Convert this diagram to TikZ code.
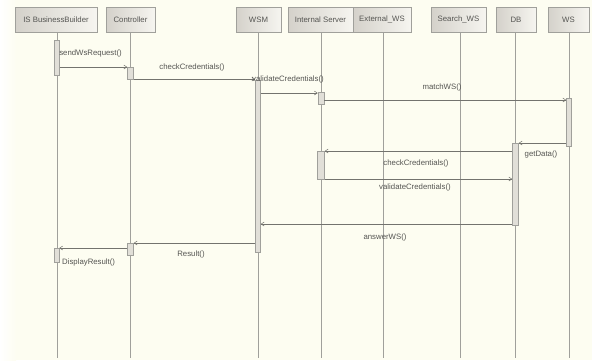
\documentclass[tikz,border=0pt]{standalone}
\usepackage{fontspec}
\setmainfont{Liberation Sans}
\usetikzlibrary{arrows.meta}
\definecolor{bg}{RGB}{253,253,241}
\definecolor{ln}{RGB}{160,160,155}
\definecolor{msgc}{RGB}{115,115,110}
\definecolor{hdl}{RGB}{212,209,202}
\definecolor{hdr}{RGB}{246,245,240}
\definecolor{txt}{RGB}{85,85,82}
\definecolor{actc}{RGB}{225,223,216}
\begin{document}
\begin{tikzpicture}[x=1pt,y=-1pt,
  font=\fontsize{7.8}{8.5}\selectfont,
  hdr/.style={draw=ln, line width=0.5pt, left color=hdl, right color=hdr,
    minimum height=25pt, inner sep=1pt, text=txt},
  life/.style={draw=ln, line width=0.5pt},
  act/.style={draw=ln, fill=actc, line width=0.5pt, minimum width=5pt, inner sep=0pt},
  msg/.style={draw=msgc, line width=0.5pt, -{Straight Barb[length=3pt,width=4pt]}},
  lbl/.style={text=txt, inner sep=1pt}]
% background
\fill[bg] (0,0) rectangle (592,360);
\shade[left color=white, right color=bg] (0,0) rectangle (16,360);
\useasboundingbox (0,0) rectangle (592,360);
% headers
\node[hdr, minimum width=82pt] (isb) at (56,19.5) {IS BusinessBuilder};
\node[hdr, minimum width=49pt] (ctl) at (130.5,19.5) {Controller};
\node[hdr, minimum width=45pt] (wsm) at (258.5,19.5) {WSM};
\node[hdr, minimum width=65pt] (isv) at (320.5,19.5) {Internal Server};
\node[hdr, minimum width=58pt] (ext) at (382,19.5) {External\_WS};
\node[hdr, minimum width=55pt] (srch) at (458.5,19.5) {Search\_WS};
\node[hdr, minimum width=40pt] (db) at (516,19.5) {DB};
\node[hdr, minimum width=41pt] (ws) at (568.5,19.5) {WS};
% lifelines
\foreach \n/\x in {isb/57,ctl/130.5,wsm/258,isv/321,ext/383,srch/460,db/515.5,ws/569}
  \draw[life] (\x,32) -- (\x,358);
% activations
\node[act, minimum height=35pt] (a1) at (57,57.5) {};
\node[act, minimum width=6pt, minimum height=12pt] (a2) at (130.5,73) {};
\node[act, minimum height=172pt] (a3) at (258,166) {};
\node[act, minimum width=6pt, minimum height=12pt] (a4) at (321,98) {};
\node[act, minimum height=48pt] (a5) at (569,122) {};
\node[act, minimum width=6pt, minimum height=82pt] (a6) at (515.5,184) {};
\node[act, minimum width=7pt, minimum height=28pt] (a7) at (321,165) {};
\node[act, minimum width=6pt, minimum height=12pt] (a8) at (130.5,249) {};
\node[act, minimum height=14pt] (a9) at (56.5,255) {};
% messages
\draw[msg] (a1.east |- 0,67) -- (a2.west |- 0,67);
\node[lbl] (m1) at (90.5,53) {sendWsRequest()};
\draw[msg] (a2.east |- 0,79) -- (a3.west |- 0,79);
\node[lbl] (m2) at (192,67) {checkCredentials()};
\draw[msg] (a3.east |- 0,93) -- (a4.west |- 0,93);
\node[lbl] (m3) at (288,79) {validateCredentials()};
\draw[msg] (a4.east |- 0,100) -- (a5.west |- 0,100);
\node[lbl] (m4) at (442,87) {matchWS()};
\draw[msg] (a5.west |- 0,143) -- (a6.east |- 0,143);
\node[lbl] (m5) at (541,154) {getData()};
\draw[msg] (a6.west |- 0,151) -- (a7.east |- 0,151);
\node[lbl] (m6) at (416,163) {checkCredentials()};
\draw[msg] (a7.east |- 0,179) -- (a6.west |- 0,179);
\node[lbl] (m7) at (415,187) {validateCredentials()};
\draw[msg] (a6.west |- 0,224) -- (a3.east |- 0,224);
\node[lbl] (m8) at (385,237) {answerWS()};
\draw[msg] (a3.west |- 0,243) -- (a8.east |- 0,243);
\node[lbl] (m9) at (191,254) {Result()};
\draw[msg] (a8.west |- 0,248) -- (a9.east |- 0,248);
\node[lbl, anchor=west] (m10) at (61,262) {DisplayResult()};
\end{tikzpicture}
\end{document}
